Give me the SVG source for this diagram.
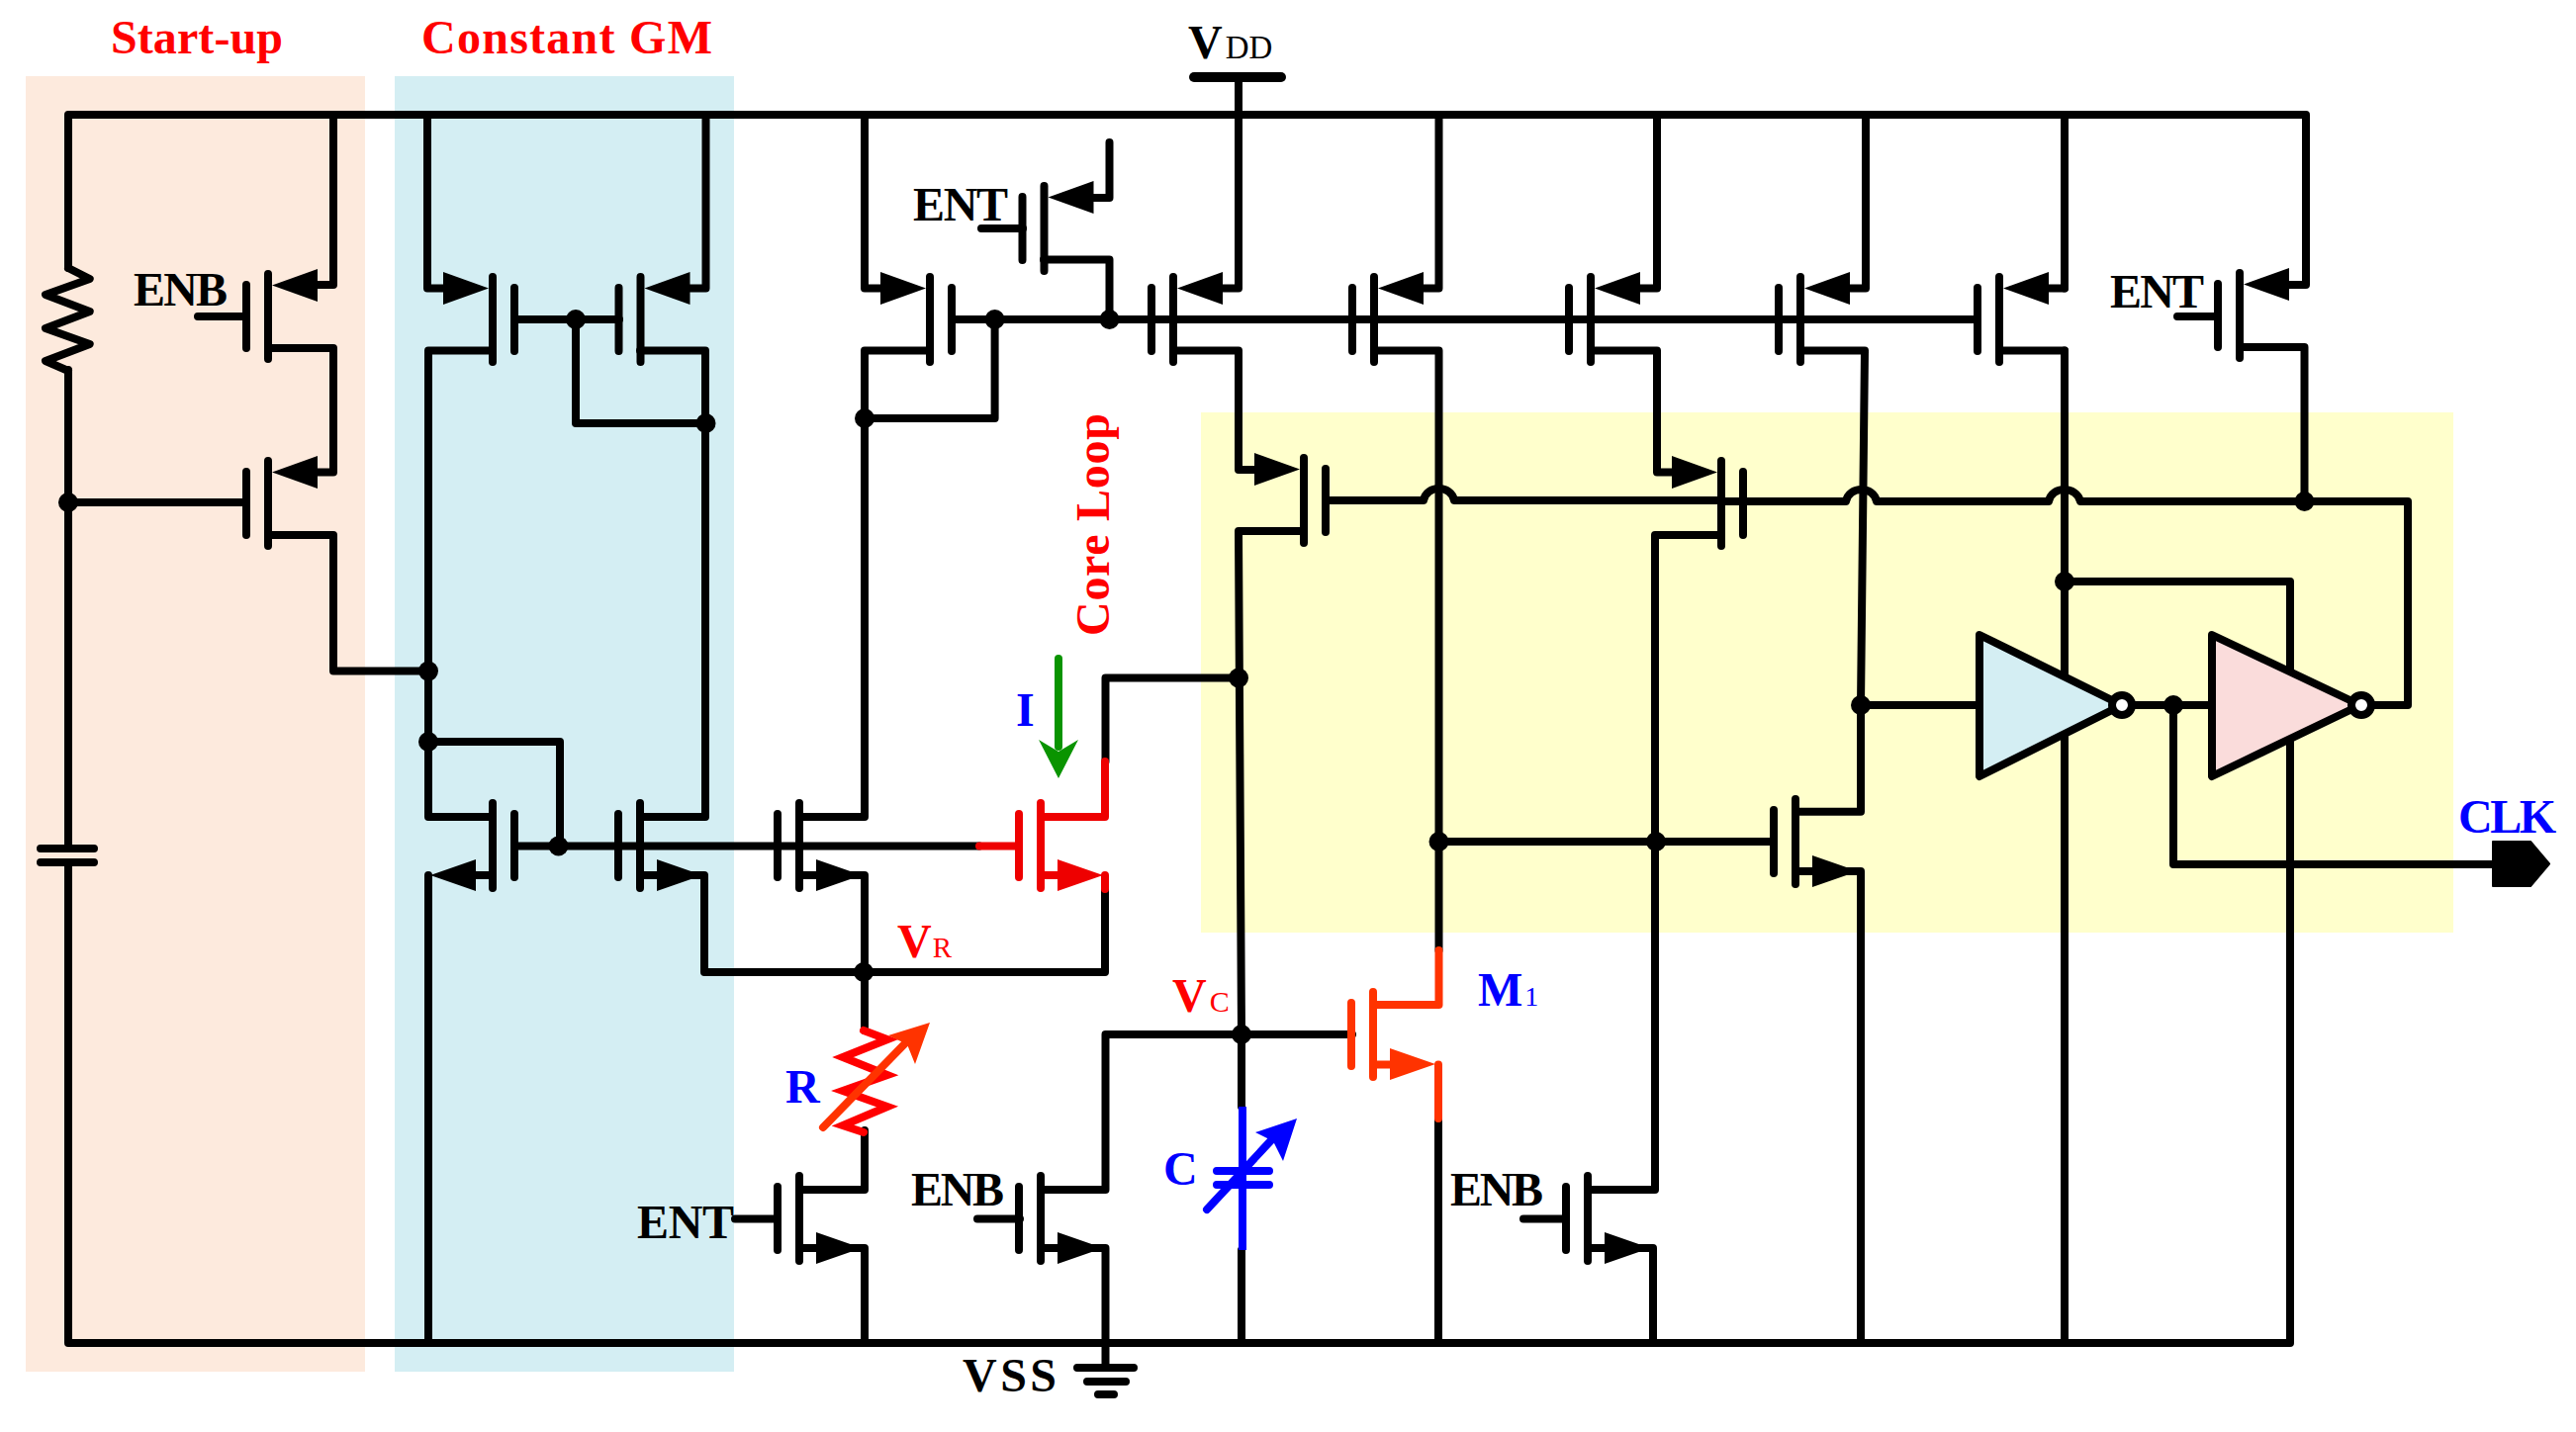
<svg xmlns="http://www.w3.org/2000/svg" xmlns:xlink="http://www.w3.org/1999/xlink" width="2604" height="1448" viewBox="0 0 2604 1448">
<style>
text{font-family:"Liberation Serif","Times New Roman",serif;font-size:48px;font-weight:bold}
.k{fill:#000}.r{fill:#ff0000}.b{fill:#0000ff}
.sub{font-size:33px;font-weight:normal}
.w{fill:none;stroke:#000;stroke-width:8;stroke-linejoin:round;stroke-linecap:round}
.red{stroke:#ee0000}.org{stroke:#ff3300}.blu{stroke:#0000ff}
.dot{fill:#000}
.dev{stroke:currentColor;stroke-width:8;stroke-linecap:round;fill:none}
.inv{stroke:#000;stroke-width:8;stroke-linejoin:round}
.bub{fill:#fff;stroke:#000;stroke-width:8}
</style>
<defs>
<g id="pmos">
<path class="dev" d="M-22 -32V32M0 -43V43"/>
<path d="M4 -31.5L50 -48V-15Z" fill="currentColor"/>
</g>
<g id="nmos">
<path class="dev" d="M-22 -32V32M0 -43V43"/>
<path d="M63 30L17 14V46Z" fill="currentColor"/>
</g>
</defs>
<g id="bands">
<rect x="26" y="77" width="343" height="1310" fill="#fdeadd"/>
<rect x="399" y="77" width="343" height="1310" fill="#d4eef3"/>
<rect x="1214" y="417" width="1266" height="526" fill="#ffffcc"/>
</g>
<g id="connectors">
<path class="w" d="M69 271V116H2331V288H2290"/>
<path class="w" d="M69 374V858M69 872V1358H2315M2315 1358V588H2087M2087 116V291.5M2087 354.5V1358"/>
<path class="w" d="M337 116V288H300M275 352H337V477.5H300M275 541H337V678.6H433M200 320H249M69 508H249"/>
<path class="w" d="M432 116V291.5H470M498 354.5H433V826H498M433 885V1358M498 885H470"/>
<path class="w" d="M520 323H626M582 323V428H713.5M713.5 116V291.5H680M647 354.5H713V826H647M647 885H712V983H1117V899"/>
<path class="w" d="M566 855V750H433M520 855.5H990"/>
<path class="w" d="M874 116V291.5H900M940 354.5H874V826H808M874 423H1005.6V323M962 323H1997"/>
<path class="w" d="M808 885H874V1042M874 1143V1203H808M808 1262H874V1358M743 1232.5H786"/>
<path class="w" d="M1121.5 144V200H1090M1055 262.6H1121.5V323M992 231H1034"/>
<path class="w" d="M1252 78V291.5H1220M1186 354.5H1252V475H1280M1318 537H1252L1255 1046V1119M1255 1264V1358M1117.5 770V685.5H1252"/>
<path class="w" d="M1117.5 1203V1046H1367M1052 1203H1117.5M1052 1262H1117.5V1383M988 1232.5H1031"/>
<path class="w" d="M1454.5 116V291.5H1425M1389 354.5H1454.5V961M1454.5 851H1793M1454 1131V1358"/>
<path class="w" d="M1675 116V291.5H1640M1608 354.5H1675V477.5H1700M1740 541H1673V1203H1605M1605 1262H1671V1358M1540 1232.5H1583"/>
<path class="w" d="M1886 116V291.5H1850M1820 354.5H1885L1881 713V820.7H1815M1815 881H1881V1358M1881 713H2001"/>
<path class="w" d="M2087 291.5H2050M2021 354.5H2087"/>
<path class="w" d="M2264 351H2329.5V507M2201 320H2242"/>
<path class="w" d="M1340 506H1439C1442 490 1467 490 1470 506H1740V507H1866C1869 491 1894 491 1897 507H2071C2074 491 2099 491 2103 507H2434V713H2395"/>
<path class="w" d="M2155 713H2235M2197 713V874H2519"/>
<path class="w red" d="M990 855.5H1030M1117 770V826H1052M1052 885H1080M1117 885V899"/>
<path class="w org" d="M1454.5 961V1016H1388M1454 1076.5V1131M1388 1076.5H1420"/>
<path class="w blu" style="stroke-linecap:butt" d="M1256 1119V1264"/>
<path d="M1070 666V755" fill="none" stroke="#0a9400" stroke-width="8" stroke-linecap="round"/>
<path d="M1050 748L1070 760L1090 748L1070 787Z" fill="#0a9400"/>
<path d="M1207 78H1295" fill="none" stroke="#000" stroke-width="10" stroke-linecap="round"/>
</g>
<g id="R1">
<path d="M69 271L90.7 282L46 298L90.7 315L46 332L90.7 348L46 365L69 375" fill="none" stroke="#000" stroke-width="8" stroke-linejoin="round" stroke-linecap="round"/>
</g>
<g id="C1">
<path d="M41 858H95M41 872H95" fill="none" stroke="#000" stroke-width="8" stroke-linecap="round"/>
</g>
<g id="Rtune">
<path d="M873 1042L897 1051L852 1069L897 1087L852 1103L897 1119L852 1138L873 1145" fill="none" stroke="#ff0000" stroke-width="8" stroke-linejoin="miter" stroke-linecap="round"/>
<path d="M832 1140L916 1054" fill="none" stroke="#ff3300" stroke-width="8" stroke-linecap="round"/>
<path d="M898 1047L940 1034L925 1076L917 1056Z" fill="#ff3300"/>
</g>
<g id="Ctune">
<path d="M1230 1184H1283M1230 1198H1283" fill="none" stroke="#0000ff" stroke-width="8" stroke-linecap="round"/>
<path d="M1220 1223L1286 1152" fill="none" stroke="#0000ff" stroke-width="8" stroke-linecap="round"/>
<path d="M1269 1145L1311 1131L1297 1174L1287 1154Z" fill="#0000ff"/>
</g>
<g id="Mq1" color="#000"><use xlink:href="#pmos" href="#pmos" transform="translate(271 320)"/></g>
<g id="Mq2" color="#000"><use xlink:href="#pmos" href="#pmos" transform="translate(271 509)"/></g>
<g id="Mgm1" color="#000"><use xlink:href="#pmos" href="#pmos" transform="translate(498 323) scale(-1 1)"/></g>
<g id="Mgm2" color="#000"><use xlink:href="#pmos" href="#pmos" transform="translate(647.5 323)"/></g>
<g id="Mp3" color="#000"><use xlink:href="#pmos" href="#pmos" transform="translate(940 323) scale(-1 1)"/></g>
<g id="Ment1" color="#000"><use xlink:href="#pmos" href="#pmos" transform="translate(1055.5 231)"/></g>
<g id="Mp4" color="#000"><use xlink:href="#pmos" href="#pmos" transform="translate(1186 323)"/></g>
<g id="Mp5" color="#000"><use xlink:href="#pmos" href="#pmos" transform="translate(1389 323)"/></g>
<g id="Mp6" color="#000"><use xlink:href="#pmos" href="#pmos" transform="translate(1608 323)"/></g>
<g id="Mp7" color="#000"><use xlink:href="#pmos" href="#pmos" transform="translate(1820 323)"/></g>
<g id="Mp8" color="#000"><use xlink:href="#pmos" href="#pmos" transform="translate(2021 323)"/></g>
<g id="Ment2" color="#000"><use xlink:href="#pmos" href="#pmos" transform="translate(2264 319)"/></g>
<g id="Myp1" color="#000"><use xlink:href="#pmos" href="#pmos" transform="translate(1318 506) scale(-1 1)"/></g>
<g id="Myp2" color="#000"><use xlink:href="#pmos" href="#pmos" transform="translate(1740 509) scale(-1 1)"/></g>
<g id="Mgn1" color="#000"><use xlink:href="#nmos" href="#nmos" transform="translate(498 855) scale(-1 1)"/></g>
<g id="Mgn2" color="#000"><use xlink:href="#nmos" href="#nmos" transform="translate(647 855)"/></g>
<g id="Mn3" color="#000"><use xlink:href="#nmos" href="#nmos" transform="translate(808 855)"/></g>
<g id="Mcore" color="#ee0000"><use xlink:href="#nmos" href="#nmos" transform="translate(1052 855)"/></g>
<g id="M1" color="#ff3300"><use xlink:href="#nmos" href="#nmos" transform="translate(1388 1046)"/></g>
<g id="Ment3" color="#000"><use xlink:href="#nmos" href="#nmos" transform="translate(808 1232)"/></g>
<g id="Menb1" color="#000"><use xlink:href="#nmos" href="#nmos" transform="translate(1052 1232)"/></g>
<g id="Menb2" color="#000"><use xlink:href="#nmos" href="#nmos" transform="translate(1605 1232)"/></g>
<g id="Mright" color="#000"><use xlink:href="#nmos" href="#nmos" transform="translate(1815 851)"/></g>
<g id="inv1">
<path class="inv" d="M2001 642L2145 713L2001 785Z" fill="#d4eef3"/>
<circle class="bub" cx="2145" cy="713" r="10"/>
</g>
<g id="inv2">
<path class="inv" d="M2236 642L2386 713L2236 785Z" fill="#fadcdb"/>
<circle class="bub" cx="2387" cy="713" r="10"/>
</g>
<g id="junctions">
<circle class="dot" cx="69" cy="508" r="10"/>
<circle class="dot" cx="433" cy="678.6" r="10"/>
<circle class="dot" cx="433" cy="750" r="10"/>
<circle class="dot" cx="582" cy="323" r="10"/>
<circle class="dot" cx="713.5" cy="428" r="10"/>
<circle class="dot" cx="564.5" cy="855.5" r="10"/>
<circle class="dot" cx="874" cy="423" r="10"/>
<circle class="dot" cx="873" cy="983" r="10"/>
<circle class="dot" cx="1005.6" cy="323" r="10"/>
<circle class="dot" cx="1121.5" cy="323" r="10"/>
<circle class="dot" cx="1252" cy="685.5" r="10"/>
<circle class="dot" cx="1255" cy="1046" r="10"/>
<circle class="dot" cx="1454.5" cy="851" r="10"/>
<circle class="dot" cx="1674" cy="851" r="10"/>
<circle class="dot" cx="1881" cy="713" r="10"/>
<circle class="dot" cx="2087" cy="588" r="10"/>
<circle class="dot" cx="2197" cy="713" r="10"/>
<circle class="dot" cx="2329.5" cy="507" r="10"/>
</g>
<g id="gnd">
<path d="M1089 1383H1146M1099 1397H1138M1110 1410H1126" fill="none" stroke="#000" stroke-width="8" stroke-linecap="round"/>
</g>
<g id="clk">
<path d="M2520 851H2558L2577 873.5L2558 896H2520Z" fill="#000" stroke="#000" stroke-width="2" stroke-linejoin="round"/>
</g>
<g id="labels">
<text class="r" x="112" y="54" textLength="174">Start-up</text>
<text class="r" x="426" y="54" textLength="294">Constant GM</text>
<text class="k" x="1201" y="59">V<tspan class="sub" dx="3">DD</tspan></text>
<text class="k" x="923" y="222.7" textLength="96">ENT</text>
<text class="k" x="135" y="308.5" textLength="95">ENB</text>
<text class="k" x="2133" y="311" textLength="95">ENT</text>
<text class="r" transform="translate(1121 643) rotate(-90)" textLength="225">Core Loop</text>
<text class="b" x="1027" y="734">I</text>
<text class="r" x="907" y="968">V<tspan class="sub" dx="1" style="font-size:29px">R</tspan></text>
<text class="r" x="1185" y="1023">V<tspan class="sub" dx="3" style="font-size:30px">C</tspan></text>
<text class="b" x="794" y="1114.6">R</text>
<text class="b" x="1176" y="1198">C</text>
<text class="b" x="1494" y="1017">M<tspan class="sub" dx="2" style="font-size:28px">1</tspan></text>
<text class="k" x="644" y="1252" textLength="98">ENT</text>
<text class="k" x="921" y="1219" textLength="94">ENB</text>
<text class="k" x="1466" y="1219" textLength="94">ENB</text>
<text class="k" x="973" y="1407" textLength="95">VSS</text>
<text class="b" x="2485" y="841.6" textLength="99">CLK</text>
</g>
</svg>
